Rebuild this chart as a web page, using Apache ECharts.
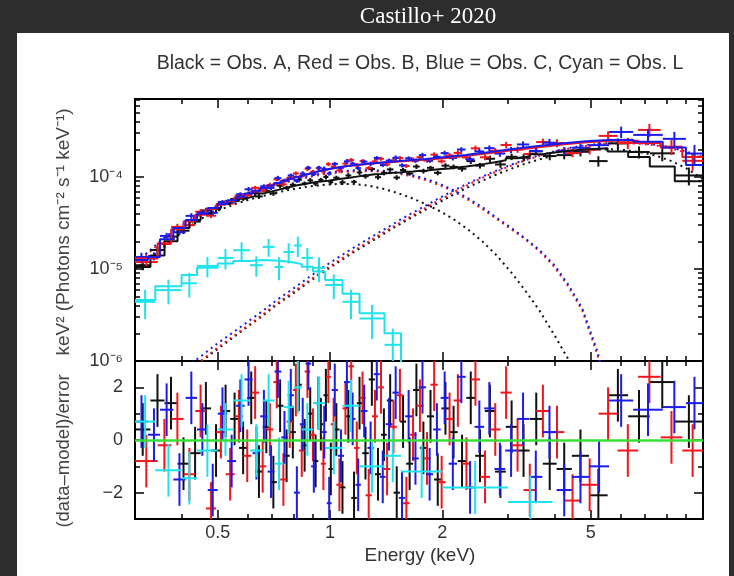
<!DOCTYPE html>
<html><head><meta charset="utf-8">
<script src="https://cdn.jsdelivr.net/npm/echarts@6/dist/echarts.min.js"></script>
<style>html,body{margin:0;padding:0;background:#fff}#c{width:734px;height:576px}</style>
</head><body><div id="c"></div>
<script>
// ---------- axis ranges & ticks ----------
const xMin = 0.3, xMax = 10, yMin = 1e-6, yMax = 7.05e-4, rMin = -3, rMax = 3;
const xMajor = [0.5, 1, 2, 5];
const xMinor = [0.4, 0.6, 0.7, 0.8, 0.9, 3, 4, 6, 7, 8, 9];
const yMajor = [1e-6, 1e-5, 1e-4];
const yMinor = [2e-6,3e-6,4e-6,5e-6,6e-6,7e-6,8e-6,9e-6,2e-5,3e-5,4e-5,5e-5,6e-5,7e-5,8e-5,9e-5,2e-4,3e-4,4e-4,5e-4,6e-4,7e-4];
const rMajor = [-2, 0, 2];
const rMinor = [-1, 1];

// ---------- Obs. A (black) ----------
const edgesA = [0.30,0.33,0.36,0.39,0.42,0.45,0.48,0.51,0.54,0.57,0.60,0.63,0.66,0.69,0.72,0.75,0.78,0.81,0.84,0.87,0.90,0.93,0.96,0.99,1.02,1.06,1.10,1.14,1.18,1.22,1.27,1.32,1.37,1.42,1.48,1.54,1.60,1.67,1.74,1.82,1.90,1.99,2.09,2.20,2.32,2.45,2.60,2.77,2.96,3.18,3.43,3.72,4.05,4.45,4.95,5.55,6.30,7.20,8.40,10.0];
const fluxA = [1.10e-5,1.61e-5,2.25e-5,2.61e-5,3.28e-5,4.33e-5,4.48e-5,5.32e-5,5.75e-5,5.80e-5,
6.67e-5,6.15e-5,7.10e-5,6.64e-5,8.06e-5,7.63e-5,8.24e-5,9.32e-5,8.50e-5,9.21e-5,
8.48e-5,9.32e-5,1.00e-4,8.79e-5,9.83e-5,8.75e-5,1.04e-4,8.87e-5,1.12e-4,1.02e-4,
1.22e-4,9.96e-5,1.11e-4,1.21e-4,9.86e-5,1.19e-4,1.09e-4,1.30e-4,1.16e-4,1.26e-4,
1.11e-4,1.33e-4,1.29e-4,1.23e-4,1.49e-4,1.33e-4,1.58e-4,1.37e-4,1.66e-4,1.62e-4,
1.90e-4,1.69e-4,1.73e-4,1.88e-4,1.49e-4,2.32e-4,1.87e-4,1.81e-4,1.04e-4];
const errA = [12,10,9,8,7,7,7,6,6,5,6,6,5,6,6,5,6,6,5,6,6,5,6,6,5,6,6,5,6,6,5,6,6,5,6,6,5,6,6,5,6,6,6,7,7,7,8,8,8,9,9,10,10,11,13,13,15,18,22];
const modelA = [1.05e-5,1.4e-5,2.0e-5,2.8e-5,3.4e-5,4.0e-5,4.6e-5,5.1e-5,5.5e-5,5.9e-5,
6.2e-5,6.6e-5,6.9e-5,7.2e-5,7.5e-5,7.8e-5,8.1e-5,8.3e-5,8.5e-5,8.7e-5,
8.9e-5,9.0e-5,9.1e-5,9.3e-5,9.5e-5,9.7e-5,9.9e-5,1.01e-4,1.03e-4,1.05e-4,
1.07e-4,1.08e-4,1.10e-4,1.11e-4,1.12e-4,1.14e-4,1.15e-4,1.17e-4,1.18e-4,1.20e-4,
1.22e-4,1.24e-4,1.27e-4,1.30e-4,1.34e-4,1.39e-4,1.45e-4,1.52e-4,1.60e-4,1.68e-4,
1.77e-4,1.86e-4,1.94e-4,2.01e-4,2.05e-4,1.90e-4,1.65e-4,1.30e-4,9.0e-5];
const residA = [0.4,1.5,1.4,-0.9,-0.5,1.2,-0.4,1.1,0.8,-0.3,
1.6,-1.2,0.5,-1.6,1.3,-0.6,0.3,2.1,-0.2,1.0,
-0.8,0.6,1.7,-1.1,0.4,-1.8,0.9,-2.2,1.4,-0.5,
2.3,-1.3,0.2,1.5,-2.0,0.7,-0.9,1.9,-0.3,0.9,
-1.5,1.2,0.3,-0.8,1.6,-0.6,1.1,-1.2,0.5,-0.4,
0.8,-0.9,-1.1,-0.6,-2.1,1.7,0.9,2.2,0.7];

// ---------- Obs. B (red) ----------
const edgesB = [0.30,0.345,0.375,0.405,0.435,0.465,0.495,0.525,0.555,0.585,0.615,0.645,0.675,0.705,0.735,0.765,0.795,0.825,0.855,0.885,0.915,0.945,0.975,1.005,1.04,1.08,1.12,1.16,1.20,1.245,1.295,1.345,1.395,1.45,1.51,1.57,1.635,1.705,1.78,1.86,1.945,2.04,2.145,2.26,2.385,2.525,2.685,2.865,3.07,3.30,3.57,3.88,4.25,4.70,5.25,5.90,6.70,7.70,8.80,10.0];
const fluxB = [1.19e-5,1.87e-5,2.87e-5,3.00e-5,4.20e-5,3.80e-5,5.09e-5,5.14e-5,6.27e-5,6.31e-5,
7.63e-5,7.13e-5,8.16e-5,9.44e-5,8.33e-5,9.83e-5,1.095e-4,1.03e-4,1.23e-4,1.14e-4,
1.25e-4,1.15e-4,1.38e-4,1.30e-4,1.18e-4,1.40e-4,1.53e-4,1.34e-4,1.49e-4,1.25e-4,
1.48e-4,1.58e-4,1.37e-4,1.51e-4,1.61e-4,1.32e-4,1.54e-4,1.64e-4,1.51e-4,1.75e-4,
1.48e-4,1.72e-4,1.83e-4,1.63e-4,2.05e-4,1.64e-4,1.93e-4,2.23e-4,1.99e-4,1.78e-4,
2.40e-4,2.34e-4,1.82e-4,1.98e-4,2.80e-4,2.34e-4,3.25e-4,2.14e-4,1.50e-4];
const errB = [11,9,8,7,7,6,6,5,5,6,5,5,6,5,5,6,5,5,6,5,5,6,5,5,6,5,5,6,5,5,6,5,5,6,5,5,6,5,5,6,5,6,6,6,7,7,7,8,8,8,9,10,10,11,12,14,16,19,22];
const modelB = [1.3e-5,1.9e-5,2.7e-5,3.3e-5,3.9e-5,4.5e-5,5.0e-5,5.5e-5,6.0e-5,6.5e-5,
7.0e-5,7.5e-5,8.0e-5,8.5e-5,9.0e-5,9.5e-5,1.00e-4,1.05e-4,1.09e-4,1.13e-4,
1.17e-4,1.20e-4,1.23e-4,1.26e-4,1.29e-4,1.32e-4,1.34e-4,1.36e-4,1.38e-4,1.40e-4,
1.42e-4,1.44e-4,1.45e-4,1.47e-4,1.48e-4,1.50e-4,1.52e-4,1.54e-4,1.56e-4,1.58e-4,
1.61e-4,1.64e-4,1.68e-4,1.72e-4,1.77e-4,1.82e-4,1.88e-4,1.95e-4,2.02e-4,2.10e-4,
2.18e-4,2.27e-4,2.36e-4,2.44e-4,2.50e-4,2.48e-4,2.35e-4,2.10e-4,1.65e-4];
const residB = [-0.8,-0.2,0.8,-1.3,1.1,-2.6,0.3,-1.3,0.9,-0.6,
1.8,-1.0,0.4,2.2,-1.5,0.7,1.9,-0.4,2.6,0.2,
1.4,-0.9,2.4,0.6,-1.7,1.2,2.8,-0.3,1.6,-2.1,
0.9,2.0,-1.1,0.5,1.7,-2.4,0.2,1.3,-0.7,2.1,
-1.6,0.8,1.5,-0.9,2.3,-1.4,0.4,1.8,-0.2,-1.9,
1.1,0.3,-2.3,-1.7,1.0,-0.4,2.4,0.1,-0.4];

// ---------- Obs. C (blue) ----------
const edgesC = [0.30,0.325,0.35,0.38,0.41,0.44,0.47,0.50,0.53,0.56,0.59,0.62,0.65,0.68,0.71,0.74,0.77,0.80,0.83,0.86,0.89,0.92,0.95,0.98,1.01,1.05,1.09,1.13,1.17,1.21,1.26,1.31,1.36,1.41,1.47,1.53,1.59,1.66,1.73,1.81,1.89,1.98,2.08,2.19,2.31,2.44,2.59,2.76,2.95,3.17,3.42,3.71,4.05,4.45,4.95,5.60,6.50,7.80,9.00,10.0];
const fluxC = [1.35e-5,1.38e-5,2.29e-5,2.51e-5,3.78e-5,4.10e-5,4.08e-5,5.36e-5,5.38e-5,6.50e-5,
7.36e-5,6.92e-5,7.94e-5,7.61e-5,9.72e-5,9.15e-5,1.04e-4,9.09e-5,1.09e-4,1.26e-4,
1.08e-4,1.26e-4,1.23e-4,1.09e-4,1.39e-4,1.26e-4,1.48e-4,1.40e-4,1.25e-4,1.47e-4,
1.39e-4,1.61e-4,1.35e-4,1.51e-4,1.62e-4,1.34e-4,1.60e-4,1.50e-4,1.73e-4,1.50e-4,
1.66e-4,1.82e-4,1.61e-4,1.99e-4,1.56e-4,1.90e-4,2.06e-4,1.80e-4,1.97e-4,2.26e-4,
1.92e-4,2.36e-4,1.93e-4,2.08e-4,2.22e-4,3.09e-4,2.87e-4,2.60e-4,1.80e-4];
const errC = [11,10,8,7,7,6,6,5,5,5,6,5,5,5,6,5,5,5,6,5,5,5,6,5,5,5,6,5,5,5,6,5,5,5,6,5,5,5,6,5,5,6,6,6,7,7,7,8,8,8,9,10,10,11,12,14,16,19,24];
const modelC = [1.25e-5,1.35e-5,2.1e-5,2.8e-5,3.4e-5,4.0e-5,4.6e-5,5.1e-5,5.6e-5,6.1e-5,
6.6e-5,7.1e-5,7.6e-5,8.1e-5,8.6e-5,9.1e-5,9.6e-5,1.01e-4,1.06e-4,1.10e-4,
1.14e-4,1.18e-4,1.21e-4,1.24e-4,1.27e-4,1.30e-4,1.33e-4,1.35e-4,1.37e-4,1.39e-4,
1.41e-4,1.43e-4,1.45e-4,1.47e-4,1.49e-4,1.51e-4,1.53e-4,1.55e-4,1.57e-4,1.60e-4,
1.63e-4,1.66e-4,1.70e-4,1.74e-4,1.79e-4,1.84e-4,1.90e-4,1.97e-4,2.04e-4,2.12e-4,
2.20e-4,2.29e-4,2.38e-4,2.46e-4,2.52e-4,2.55e-4,2.42e-4,2.10e-4,1.35e-4];
const residC = [0.7,0.2,1.15,-1.5,1.6,0.4,-1.9,1.0,-0.8,1.3,
2.3,-0.5,0.9,-1.2,2.6,0.1,1.7,-2.0,0.6,2.9,
-1.0,1.4,0.3,-2.4,1.9,-0.6,2.2,0.8,-1.7,1.1,
-0.3,2.5,-1.4,0.6,1.8,-2.2,0.9,-0.7,2.0,-1.3,
0.4,1.6,-0.9,2.4,-1.8,0.5,1.2,-1.1,-0.4,0.8,
-1.4,0.3,-1.9,-1.4,-1.0,1.5,1.15,1.25,1.4];

// ---------- Obs. L (cyan) ----------
const edgesL = [0.30,0.34,0.40,0.44,0.50,0.55,0.61,0.66,0.71,0.75,0.80,0.84,0.90,0.97,1.08,1.20,1.40,1.55,2.00,3.00,3.95];
const fluxL = [4.4e-6,5.9e-6,7.0e-6,1.08e-5,1.32e-5,1.60e-5,1.10e-5,1.74e-5,1.05e-5,1.53e-5,1.80e-5,1.32e-5,1.03e-5,6.7e-6,4.4e-6,2.9e-6,1.5e-6,5.0e-7,1.5e-7,3.0e-8];
const errL = [35,30,30,25,25,22,25,22,28,25,25,28,30,30,35,40,50,60,70,80];
const modelL = [4.6e-6,6.5e-6,8.6e-6,1.03e-5,1.15e-5,1.22e-5,1.25e-5,1.24e-5,1.22e-5,1.18e-5,1.13e-5,1.06e-5,9.4e-6,7.6e-6,5.4e-6,3.3e-6,2.0e-6,8.0e-7,3.0e-7,8.0e-8];
const residL = [0.7,-1.15,-1.45,-0.4,0.4,1.5,-0.4,1.5,-0.9,1.25,2.0,0.4,1.4,-0.3,1.3,-1.0,-0.6,-1.2,-1.8,-2.35];

// ---------- model components (dotted) ----------
const compE = [0.30,0.32,0.35,0.38,0.41,0.45,0.50,0.55,0.60,0.66,0.72,0.80,0.88,0.96,1.05,1.15,1.26,1.38,1.50,1.64,1.80,1.96,2.14,2.34,2.56,2.80,3.06,3.34,3.65,4.00,4.35,4.75,5.20,5.70,6.20,6.80,7.50,8.20,9.00,10.0];
const softA = [1.0e-5,1.2e-5,1.6e-5,2.1e-5,2.7e-5,3.5e-5,4.3e-5,5.0e-5,5.6e-5,6.2e-5,
6.8e-5,7.4e-5,7.9e-5,8.2e-5,8.4e-5,8.4e-5,8.1e-5,7.5e-5,6.8e-5,6.0e-5,
5.1e-5,4.3e-5,3.5e-5,2.7e-5,2.0e-5,1.4e-5,9.2e-6,5.8e-6,3.5e-6,1.9e-6,
1.05e-6,5.0e-7,2.0e-7,null,null,null,null,null,null,null];
const hardA = [2.2e-7,3.0e-7,4.2e-7,5.7e-7,7.3e-7,9.8e-7,1.35e-6,1.8e-6,2.35e-6,3.1e-6,
4.1e-6,5.5e-6,7.3e-6,9.3e-6,1.18e-5,1.5e-5,1.88e-5,2.35e-5,2.9e-5,3.55e-5,
4.4e-5,5.3e-5,6.4e-5,7.7e-5,9.1e-5,1.07e-4,1.23e-4,1.4e-4,1.56e-4,1.71e-4,
1.83e-4,1.93e-4,1.99e-4,2.0e-4,1.96e-4,1.86e-4,1.7e-4,1.5e-4,1.25e-4,9.5e-5];
const softB = [1.2e-5,1.4e-5,1.9e-5,2.5e-5,3.1e-5,3.9e-5,4.8e-5,5.6e-5,6.4e-5,7.3e-5,
8.2e-5,9.2e-5,1.0e-4,1.07e-4,1.12e-4,1.15e-4,1.16e-4,1.14e-4,1.10e-4,1.03e-4,
9.3e-5,8.2e-5,7.0e-5,5.7e-5,4.5e-5,3.5e-5,2.7e-5,2.1e-5,1.55e-5,1.05e-5,
6.5e-6,3.5e-6,1.2e-6,3.0e-7,null,null,null,null,null,null];
const hardB = [2.2e-7,3.0e-7,4.3e-7,5.8e-7,7.5e-7,1.0e-6,1.4e-6,1.85e-6,2.4e-6,3.2e-6,
4.2e-6,5.7e-6,7.5e-6,9.6e-6,1.22e-5,1.55e-5,1.95e-5,2.45e-5,3.0e-5,3.7e-5,
4.6e-5,5.6e-5,6.8e-5,8.2e-5,9.8e-5,1.15e-4,1.33e-4,1.52e-4,1.70e-4,1.88e-4,
2.03e-4,2.16e-4,2.26e-4,2.32e-4,2.34e-4,2.3e-4,2.2e-4,2.05e-4,1.85e-4,1.6e-4];
const softC = [1.25e-5,1.45e-5,2.0e-5,2.6e-5,3.2e-5,4.0e-5,4.9e-5,5.8e-5,6.6e-5,7.5e-5,
8.4e-5,9.4e-5,1.03e-4,1.1e-4,1.15e-4,1.18e-4,1.19e-4,1.17e-4,1.13e-4,1.06e-4,
9.6e-5,8.5e-5,7.2e-5,5.9e-5,4.7e-5,3.6e-5,2.8e-5,2.15e-5,1.6e-5,1.1e-5,
6.8e-6,3.7e-6,1.3e-6,3.2e-7,null,null,null,null,null,null];
const hardC = [2.5e-7,3.4e-7,4.8e-7,6.5e-7,8.4e-7,1.12e-6,1.56e-6,2.05e-6,2.65e-6,3.5e-6,
4.6e-6,6.2e-6,8.2e-6,1.05e-5,1.33e-5,1.68e-5,2.1e-5,2.62e-5,3.2e-5,3.95e-5,
4.85e-5,5.9e-5,7.1e-5,8.5e-5,1.01e-4,1.18e-4,1.36e-4,1.55e-4,1.73e-4,1.91e-4,
2.06e-4,2.19e-4,2.29e-4,2.35e-4,2.37e-4,2.33e-4,2.24e-4,2.1e-4,1.9e-4,1.65e-4];

// ---------- helpers ----------
const C_BLACK = '#111111', C_RED = '#f0161c', C_BLUE = '#1c1cea', C_CYAN = '#1fe3ea', C_GREEN = '#37e037';
const L10 = Math.log10;
function fluxCross(edges, flux, err) {
  return flux.map((f, i) => { const lo = edges[i], hi = edges[i + 1];
    return [lo, hi, Math.sqrt(lo * hi), f, f * (1 - err[i] / 100), f * (1 + err[i] / 100)]; });
}
function residCross(edges, res) {
  return res.map((r, i) => { const lo = edges[i], hi = edges[i + 1];
    return [lo, hi, Math.sqrt(lo * hi), r, r - 1, r + 1]; });
}
function stepData(edges, model) {
  const out = [];
  model.forEach((m, i) => { out.push([edges[i], m], [edges[i + 1], m]); });
  return out;
}
function compData(vals) { return compE.map((e, i) => [e, vals[i]]).filter(p => p[1] != null); }

function crossSeries(data, color, xi, yi, z) {
  return {
    type: 'custom', xAxisIndex: xi, yAxisIndex: yi, data, clip: true, z, silent: true,
    encode: { x: [0, 1, 2], y: [3, 4, 5] },
    renderItem: function (params, api) {
      const a = api.coord([api.value(0), api.value(3)]);
      const b = api.coord([api.value(1), api.value(3)]);
      const c1 = api.coord([api.value(2), api.value(4)]);
      const c2 = api.coord([api.value(2), api.value(5)]);
      const st = { stroke: color, lineWidth: 2 };
      return { type: 'group', children: [
        { type: 'line', shape: { x1: a[0], y1: a[1], x2: b[0], y2: b[1] }, style: st },
        { type: 'line', shape: { x1: c1[0], y1: c1[1], x2: c2[0], y2: c2[1] }, style: st }
      ] };
    }
  };
}
function stepSeries(edges, model, color, z) {
  return { type: 'line', xAxisIndex: 0, yAxisIndex: 0, data: stepData(edges, model), symbol: 'none',
    lineStyle: { color, width: 2 }, z, silent: true, clip: true };
}
function compSeries(vals, color) {
  return { type: 'line', xAxisIndex: 0, yAxisIndex: 0, data: compData(vals), symbol: 'none',
    lineStyle: { color, width: 2, type: [2, 4] }, z: 1, silent: true, clip: true };
}

const SUP = { '-': '⁻', '0': '⁰', '1': '¹', '2': '²', '3': '³', '4': '⁴', '5': '⁵', '6': '⁶', '7': '⁷', '8': '⁸', '9': '⁹' };
const labelStyle = { fontSize: 18, color: '#333', fontFamily: 'Liberation Sans' };
function deco(kind, grid, pos, min, max, vals, len, fmt) {
  const ax = {
    type: 'value', gridIndex: grid, position: pos, min, max,
    axisLine: { show: false, onZero: false }, splitLine: { show: false },
    axisTick: { show: true, inside: true, length: len, customValues: vals, lineStyle: { color: '#000', width: 1.5 } },
    axisLabel: { show: false }
  };
  if (fmt) ax.axisLabel = Object.assign({ show: true, customValues: vals, formatter: fmt, margin: kind === 'x' ? 5 : 12 }, labelStyle);
  return ax;
}
const lxMin = L10(xMin), lxMax = L10(xMax), lyMin = L10(yMin), lyMax = L10(yMax);
const xMajL = xMajor.map(L10), xMinL = xMinor.map(L10), yMajL = yMajor.map(L10), yMinL = yMinor.map(L10);
const xFmt = v => String(Number(Math.pow(10, v).toPrecision(4)));
const yFmt = v => '10' + String(Math.round(v)).split('').map(c => SUP[c]).join('');
const rFmt = v => (v < 0 ? '−' + Math.abs(v) : String(v));

const xAxes = [
  { type: 'log', gridIndex: 0, min: xMin, max: xMax, show: false, axisLine: { onZero: false } },
  deco('x', 0, 'bottom', lxMin, lxMax, xMajL, 9), deco('x', 0, 'bottom', lxMin, lxMax, xMinL, 5),
  deco('x', 0, 'top', lxMin, lxMax, xMajL, 9), deco('x', 0, 'top', lxMin, lxMax, xMinL, 5),
  { type: 'log', gridIndex: 1, min: xMin, max: xMax, show: false, axisLine: { onZero: false } },
  deco('x', 1, 'bottom', lxMin, lxMax, xMajL, 9, xFmt), deco('x', 1, 'bottom', lxMin, lxMax, xMinL, 5),
  deco('x', 1, 'top', lxMin, lxMax, xMajL, 9), deco('x', 1, 'top', lxMin, lxMax, xMinL, 5)
];
const yAxes = [
  { type: 'log', gridIndex: 0, min: yMin, max: yMax, show: false, axisLine: { onZero: false } },
  deco('y', 0, 'left', lyMin, lyMax, yMajL, 9, yFmt), deco('y', 0, 'left', lyMin, lyMax, yMinL, 5),
  deco('y', 0, 'right', lyMin, lyMax, yMajL, 9), deco('y', 0, 'right', lyMin, lyMax, yMinL, 5),
  { type: 'value', gridIndex: 1, min: rMin, max: rMax, show: false, axisLine: { onZero: false } },
  deco('y', 1, 'left', rMin, rMax, rMajor, 9, rFmt), deco('y', 1, 'left', rMin, rMax, rMinor, 5),
  deco('y', 1, 'right', rMin, rMax, rMajor, 9), deco('y', 1, 'right', rMin, rMax, rMinor, 5)
];

const series = [
  compSeries(softA, C_BLACK), compSeries(hardA, C_BLACK),
  compSeries(softB, C_RED), compSeries(hardB, C_RED),
  compSeries(softC, C_BLUE), compSeries(hardC, C_BLUE),
  crossSeries(fluxCross(edgesA, fluxA, errA), C_BLACK, 0, 0, 3), stepSeries(edgesA, modelA, C_BLACK, 4),
  crossSeries(fluxCross(edgesB, fluxB, errB), C_RED, 0, 0, 3), stepSeries(edgesB, modelB, C_RED, 4),
  crossSeries(fluxCross(edgesC, fluxC, errC), C_BLUE, 0, 0, 3), stepSeries(edgesC, modelC, C_BLUE, 4),
  crossSeries(fluxCross(edgesL, fluxL, errL), C_CYAN, 0, 0, 5), stepSeries(edgesL, modelL, C_CYAN, 5),
  crossSeries(residCross(edgesA, residA), C_BLACK, 5, 5, 3),
  crossSeries(residCross(edgesB, residB), C_RED, 5, 5, 3),
  crossSeries(residCross(edgesC, residC), C_BLUE, 5, 5, 3),
  crossSeries(residCross(edgesL, residL), C_CYAN, 5, 5, 4),
  { type: 'line', xAxisIndex: 5, yAxisIndex: 5, data: [], symbol: 'none', silent: true, z: 6,
    markLine: { silent: true, symbol: ['none', 'none'], label: { show: false }, animation: false,
      lineStyle: { color: C_GREEN, width: 2.5, type: 'solid' }, data: [{ yAxis: 0 }] } }
];

const DARK = '#2d2d2d';
function txt(x, y, text, font, fill, rot) {
  const el = { type: 'text', z: 101, x, y, style: { text, fill, font, textAlign: 'center', textVerticalAlign: 'middle', align: 'center', verticalAlign: 'middle' } };
  if (rot) el.rotation = rot;
  return el;
}
const option = {
  backgroundColor: '#ffffff',
  animation: false,
  grid: [
    { left: 135, top: 99, width: 568, height: 262, show: true, borderColor: '#000', borderWidth: 2, backgroundColor: 'transparent' },
    { left: 135, top: 361, width: 568, height: 158, show: true, borderColor: '#000', borderWidth: 2, backgroundColor: 'transparent' }
  ],
  xAxis: xAxes,
  yAxis: yAxes,
  series,
  graphic: { elements: [
    { type: 'rect', z: 100, shape: { x: 0, y: 0, width: 734, height: 33 }, style: { fill: DARK } },
    { type: 'rect', z: 100, shape: { x: 0, y: 0, width: 17, height: 576 }, style: { fill: DARK } },
    { type: 'rect', z: 100, shape: { x: 729, y: 0, width: 5, height: 576 }, style: { fill: DARK } },
    txt(428, 17, 'Castillo+ 2020', '23px "Liberation Serif"', '#ffffff'),
    txt(420, 64, 'Black = Obs. A, Red = Obs. B, Blue = Obs. C, Cyan = Obs. L', '19.5px "Liberation Sans"', '#333'),
    txt(64, 451, '(data–model)/error', '18.5px "Liberation Sans"', '#444', Math.PI / 2),
    txt(64, 232, 'keV² (Photons cm⁻² s⁻¹ keV⁻¹)', '19px "Liberation Sans"', '#444', Math.PI / 2),
    txt(420, 556, 'Energy (keV)', '19px "Liberation Sans"', '#333')
  ] }
};
const chart = echarts.init(document.getElementById('c'), null, { renderer: 'canvas' });
chart.setOption(option);
</script></body></html>
